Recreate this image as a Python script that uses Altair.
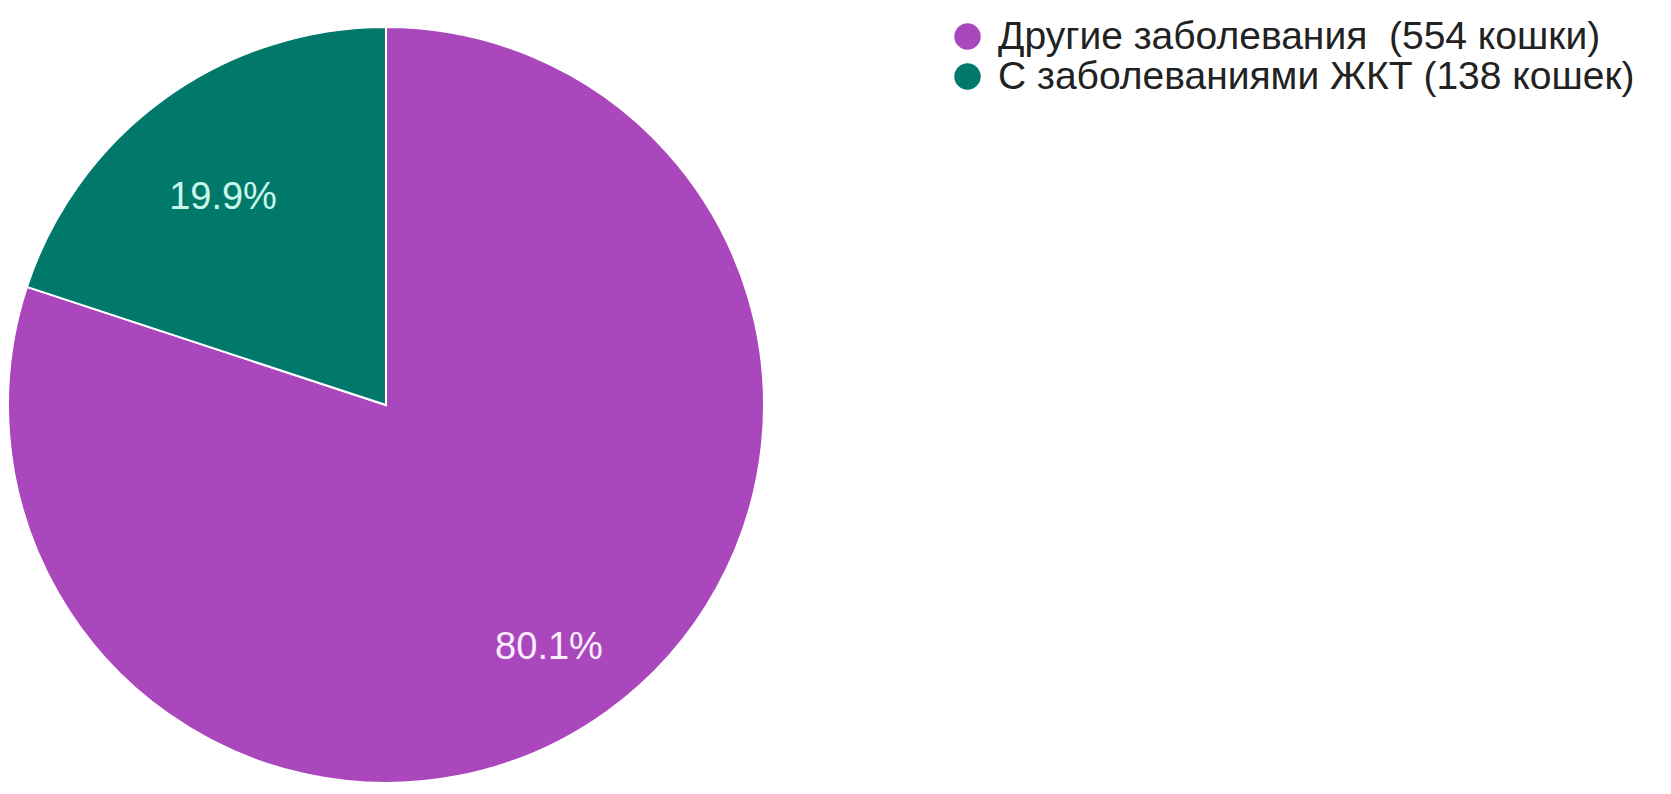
import altair as alt
import pandas as pd

categories = ["Другие заболевания\u00a0\u00a0(554 кошки)", "С заболеваниями ЖКТ (138 кошек)"]
counts = [554, 138]
pct_labels = ["80.1%", "19.9%"]
colors = ["#AB47BC", "#00796B"]
label_colors = ["#fbeefe", "#c8f7ea"]
order = [1, 2]

df = pd.DataFrame({
    "category": categories,
    "count": counts,
    "pct": pct_labels,
    "lc": label_colors,
    "ord": order,
})

base = alt.Chart(df).encode(
    theta=alt.Theta("count:Q", stack=True),
    order=alt.Order("ord:Q"),
)

pie = base.mark_arc(outerRadius=378, stroke="white", strokeWidth=2).encode(
    x=alt.value(378),
    y=alt.value(397),
    color=alt.Color(
        "category:N",
        scale=alt.Scale(domain=categories, range=colors),
        sort=categories,
        legend=alt.Legend(
            title=None,
            orient="none",
            legendX=940,
            legendY=9,
            symbolType="circle",
            symbolSize=700,
            symbolStrokeWidth=0,
            labelFontSize=39,
            labelFont="Liberation Sans",
            labelColor="#222222",
            labelOffset=11,
            labelLimit=0,
            rowPadding=0,
            padding=0,
        ),
    ),
)

labels = base.mark_text(
    radius=278, dy=18, fontSize=38, font="Liberation Sans", align="center", baseline="middle"
).encode(
    x=alt.value(378),
    y=alt.value(397),
    text="pct:N",
    color=alt.Color("lc:N", scale=None),
)

chart = alt.layer(pie, labels).properties(
    width=1650,
    height=778,
    padding=0,
    autosize=alt.AutoSizeParams(type="none"),
).configure_view(strokeWidth=0)

chart.save("out.html", embed_options={"renderer": "svg", "actions": False})
